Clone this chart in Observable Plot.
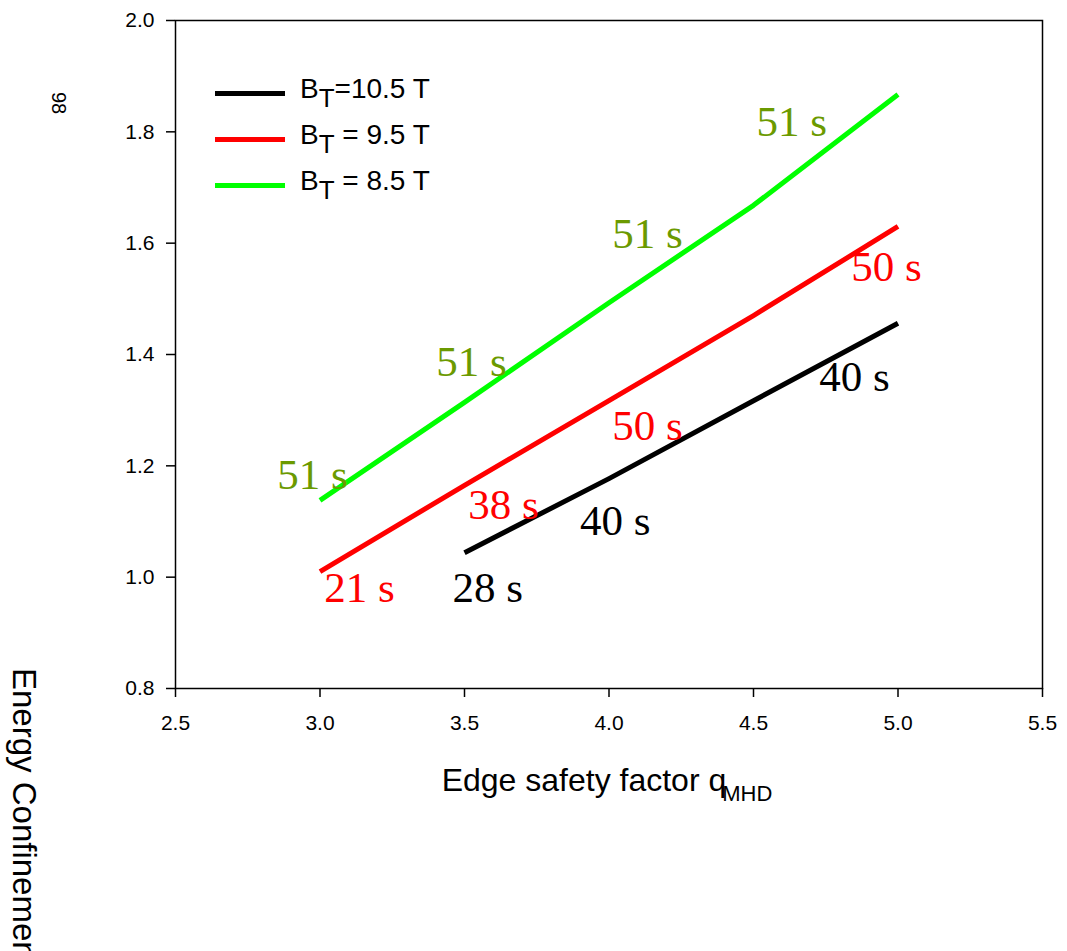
<!DOCTYPE html>
<html>
<head>
<meta charset="utf-8">
<script src="https://cdn.jsdelivr.net/npm/d3@7"></script>
<script src="https://cdn.jsdelivr.net/npm/@observablehq/plot@0.6"></script>
<style>
  html, body { margin: 0; padding: 0; background: #fff; }
  #wrap { position: relative; width: 1067px; height: 951px; overflow: hidden; font-family: "Liberation Sans", Arial, sans-serif; }
  #legend { position: absolute; left: 215px; top: 70px; }
  .row { display: flex; align-items: center; height: 46px; }
  .swatch { width: 70px; height: 5px; margin-right: 15px; }
  .lab { font-size: 28px; color: #000; white-space: nowrap; position: relative; top: -4px; }
  .lab sub { font-size: 26px; vertical-align: -9px; line-height: 0; }
</style>
</head>
<body>
<div id="wrap"></div>
<script>
// ---- data ----
const qValues = [3.0, 3.5, 4.0, 4.5, 5.0];
const series = ["BT=10.5 T", "BT = 9.5 T", "BT = 8.5 T"];
const seriesColors = ["#000000", "#ff0000", "#00ff00"];
const legendLabels = [["B", "T", "=10.5 T"], ["B", "T", " = 9.5 T"], ["B", "T", " = 8.5 T"]];
const h105 = [null, 1.044, 1.177, 1.317, 1.456];
const h95 = [1.010, 1.165, 1.317, 1.470, 1.630];
const h85 = [1.138, 1.314, 1.493, 1.668, 1.867];

const annText = ["51 s", "51 s", "51 s", "51 s", "21 s", "38 s", "50 s", "50 s", "28 s", "40 s", "40 s"];
const annX = [2.974, 3.524, 4.133, 4.632, 3.137, 3.635, 4.133, 4.960, 3.580, 4.022, 4.849];
const annY = [1.183, 1.386, 1.616, 1.817, 0.981, 1.129, 1.271, 1.556, 0.981, 1.100, 1.359];
const annColor = ["#6b9a00", "#6b9a00", "#6b9a00", "#6b9a00", "#ff0000", "#ff0000", "#ff0000", "#ff0000", "#000000", "#000000", "#000000"];

const xTicks = [2.5, 3.0, 3.5, 4.0, 4.5, 5.0, 5.5];
const yTicks = [0.8, 1.0, 1.2, 1.4, 1.6, 1.8, 2.0];

// ---- build tables ----
const lineData = [];
[h105, h95, h85].forEach((arr, si) => {
  arr.forEach((v, i) => { if (v != null) lineData.push({q: qValues[i], h: v, s: series[si]}); });
});
const annData = annText.map((t, i) => ({t, x: annX[i], y: annY[i], c: annColor[i]}));

const chart = Plot.plot({
  width: 1067,
  height: 951,
  marginLeft: 175,
  marginRight: 25,
  marginTop: 20,
  marginBottom: 263,
  style: {fontFamily: "Liberation Sans, Arial, sans-serif", fontSize: "21px", color: "#000", background: "#fff"},
  x: {domain: [2.5, 5.5], ticks: xTicks, tickFormat: d3.format(".1f"), label: null},
  y: {domain: [0.8, 2.0], ticks: yTicks, tickFormat: d3.format(".1f"), label: null},
  color: {domain: series, range: seriesColors},
  marks: [
    Plot.frame({stroke: "#000", strokeWidth: 1.5}),
    Plot.axisX({ticks: xTicks, tickFormat: d3.format(".1f"), tickSize: 9, tickPadding: 18, fontSize: 21, strokeWidth: 1.5}),
    Plot.axisY({ticks: yTicks, tickFormat: d3.format(".1f"), tickSize: 9, tickPadding: 12, fontSize: 21, strokeWidth: 1.5}),
    Plot.line(lineData, {x: "q", y: "h", z: "s", stroke: "s", strokeWidth: 5, strokeLinecap: "butt", strokeLinejoin: "round"}),
    Plot.text(annData, {x: "x", y: "y", text: "t", fill: "c", fontSize: 43, fontFamily: "Liberation Serif, Times New Roman, serif"})
  ]
});

const wrap = document.getElementById("wrap");
wrap.appendChild(chart);

// axis titles
const svg = d3.select(chart);
const xt = svg.append("text")
  .attr("x", 607).attr("y", 791)
  .attr("text-anchor", "middle")
  .attr("font-size", 32)
  .attr("font-family", "Liberation Sans, Arial, sans-serif")
  .attr("fill", "#000");
xt.append("tspan").text("Edge safety factor q");
xt.append("tspan").attr("font-size", 22).attr("dy", 10).attr("dx", -4).text("MHD");

svg.append("text")
  .attr("transform", "translate(13,668) rotate(90)")
  .attr("text-anchor", "start")
  .attr("font-size", 33)
  .attr("font-family", "Liberation Sans, Arial, sans-serif")
  .attr("fill", "#000")
  .text("Energy Confinement Enhancement Factor H");

svg.append("text")
  .attr("transform", "translate(52,103) rotate(90)")
  .attr("text-anchor", "middle")
  .attr("font-size", 20)
  .attr("font-family", "Liberation Sans, Arial, sans-serif")
  .attr("fill", "#000")
  .text("98");

// legend
const legend = document.createElement("div");
legend.id = "legend";
legendLabels.forEach((parts, i) => {
  const row = document.createElement("div");
  row.className = "row";
  const sw = document.createElement("div");
  sw.className = "swatch";
  sw.style.background = seriesColors[i];
  const lab = document.createElement("div");
  lab.className = "lab";
  lab.innerHTML = parts[0] + "<sub>" + parts[1] + "</sub>" + parts[2];
  row.appendChild(sw); row.appendChild(lab);
  legend.appendChild(row);
});
wrap.appendChild(legend);
</script>
</body>
</html>
